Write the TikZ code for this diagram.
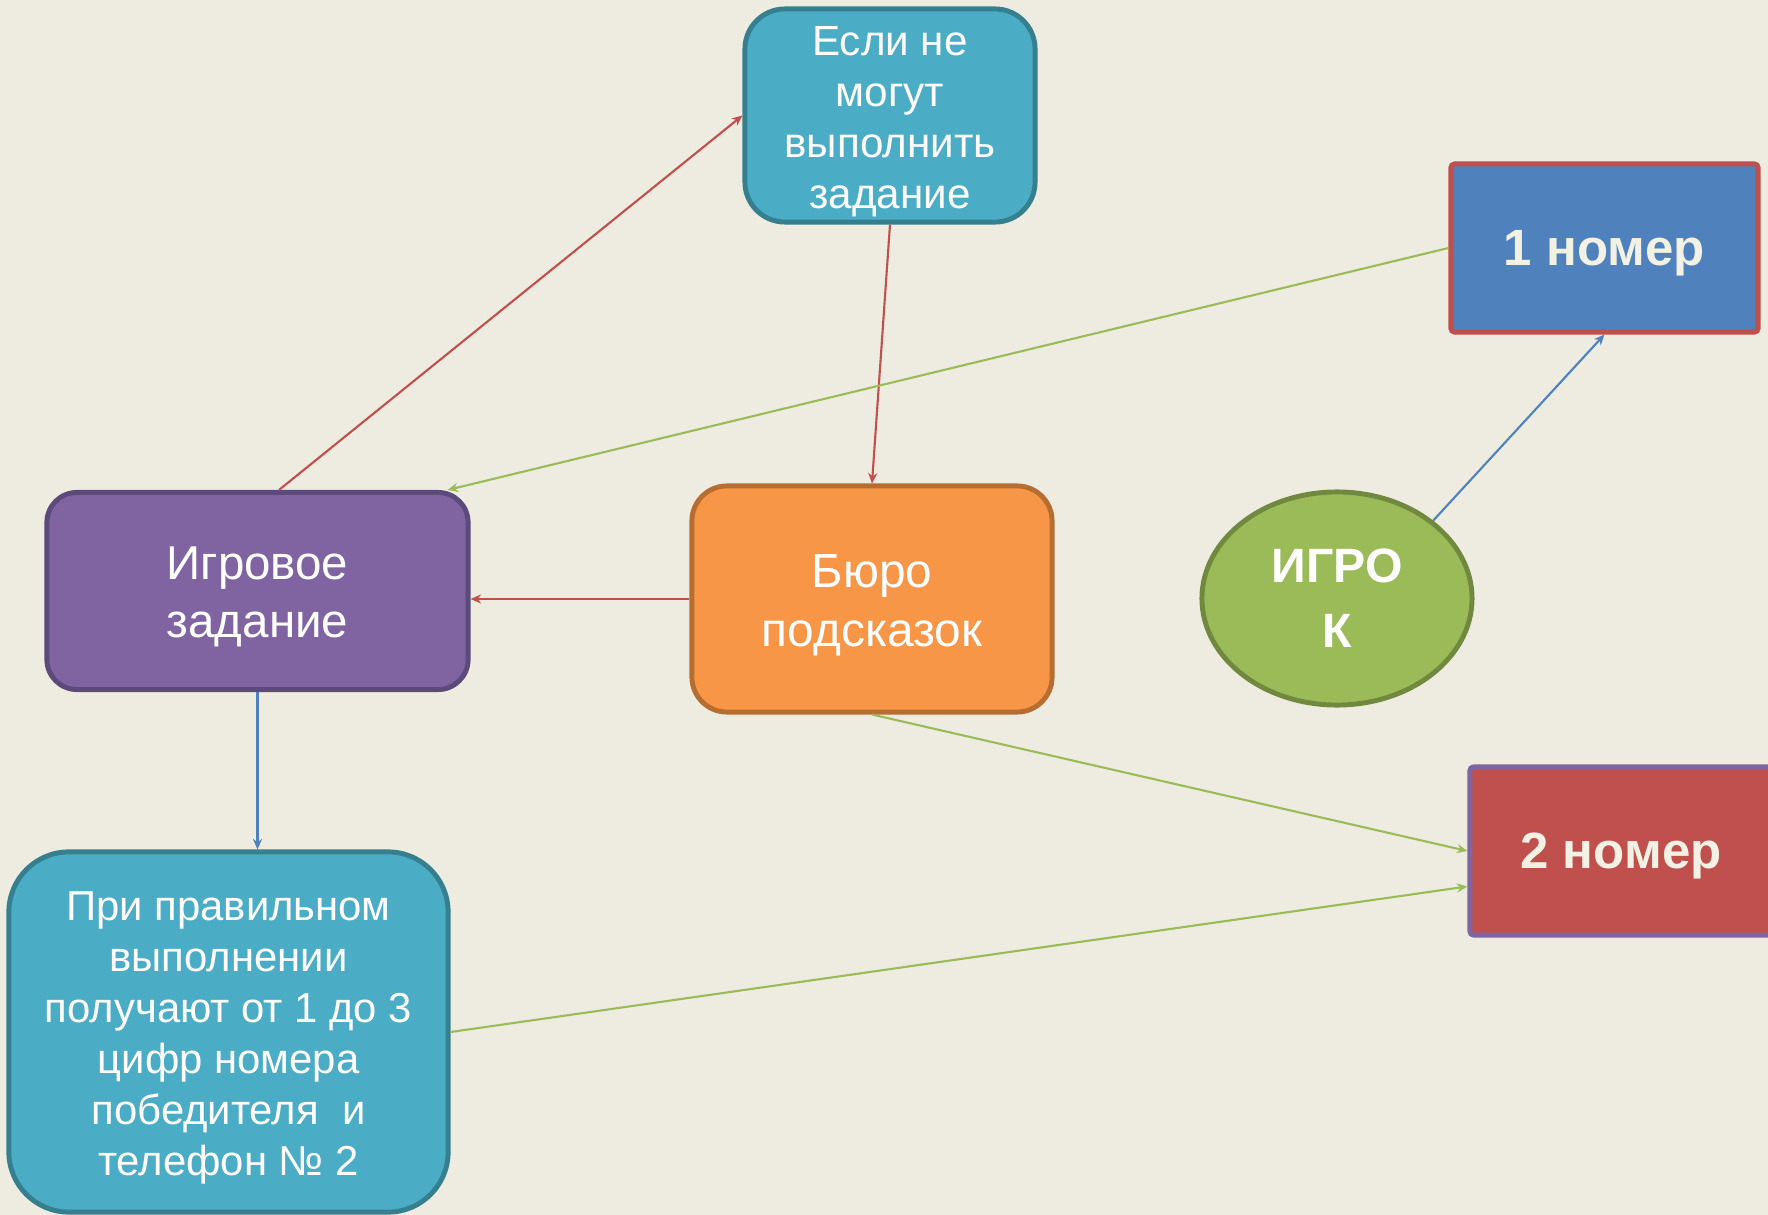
\documentclass[tikz,border=0pt]{standalone}
\usepackage{fontspec}
\setmainfont{Liberation Sans}
\usetikzlibrary{arrows.meta,shapes.geometric}
\definecolor{bgtan}{HTML}{EEECE1}
\definecolor{aqua}{HTML}{4BACC6}
\definecolor{aquadark}{HTML}{357F8F}
\definecolor{blueone}{HTML}{4F81BD}
\definecolor{redtwo}{HTML}{C0504D}
\definecolor{violet}{HTML}{8064A2}
\definecolor{violetdark}{HTML}{5C4A7A}
\definecolor{orangeb}{HTML}{F79646}
\definecolor{orangedark}{HTML}{B66D31}
\definecolor{olive}{HTML}{9BBB59}
\definecolor{olivedark}{HTML}{71893F}
\definecolor{cream}{HTML}{F3F0E4}
\newcommand\boxtext[1]{\raisebox{-1.7pt}[\height][\depth]{\begin{tabular}{@{}c@{}}#1\end{tabular}}}
\tikzset{
  box/.style={draw, line width=1.4pt, inner sep=0pt, text=white},
  numbox/.style={box, text=cream, font=\fontsize{14.5}{17}\selectfont\bfseries},
  link/.style={line width=0.6pt, -{Stealth[length=3pt,width=2.6pt]}}
}

\begin{document}
\begin{tikzpicture}[x=0.01cm, y=-0.01cm]
			%%%%% START %%%%%
			
			\path[use as bounding box, fill=bgtan] (0, 0) rectangle (1768, 1215);
			
			\node[box, fill=aqua, draw=aquadark, rounded corners=0.4cm, minimum width=2.9cm, minimum height=2.13cm, font=\fontsize{12}{14.5}\selectfont] (fail) at (890, 115.5) {\boxtext{Если не\\могут\\выполнить\\задание}};
			
			\node[numbox, fill=blueone, draw=redtwo, rounded corners=1pt, minimum width=3.07cm, minimum height=1.68cm] (num1) at (1604.5, 248) {\boxtext{1 номер}};
			
			\node[box, fill=violet, draw=violetdark, rounded corners=0.3cm, minimum width=4.21cm, minimum height=1.97cm, font=\fontsize{13.5}{16.4}\selectfont] (task) at (257.5, 591) {\boxtext{Игровое\\задание}};
			
			\node[box, fill=orangeb, draw=orangedark, rounded corners=0.35cm, minimum width=3.6cm, minimum height=2.26cm, font=\fontsize{13.6}{16.7}\selectfont] (bureau) at (872, 599) {\boxtext{Бюро\\подсказок}};
			
			\node[box, ellipse, align=center, fill=olive, draw=olivedark, minimum width=2.7cm, minimum height=2.13cm, font=\fontsize{13.7}{18.5}\selectfont\bfseries] (player) at (1337, 598.5) {ИГРО\\К};
			
			\node[numbox, fill=redtwo, draw=violet, rounded corners=1pt, minimum width=3.02cm, minimum height=1.68cm] (num2) at (1621, 851) {\boxtext{2 номер}};
			
			\node[box, fill=aqua, draw=aquadark, rounded corners=0.6cm, minimum width=4.39cm, minimum height=3.6cm, font=\fontsize{11.9}{14.5}\selectfont] (result) at (228.5, 1032) {\boxtext{При правильном\\выполнении\\получают от 1 до 3\\цифр номера\\победителя \ и\\телефон № 2}};
			
			% red
			\draw[link, redtwo] (task.78) -- (fail.west);
			\draw[link, redtwo] (fail.south) -- (bureau.north);
			\draw[link, redtwo] (bureau.west) -- (bureau.west -| task.east);
			
			% green
			\draw[link, olive] (num1.west) -- (task.28);
			\draw[link, olive] (bureau.south) -- (num2.west);
			\draw[link, olive] (result.east) -- (num2.193);
			
			% blue
			\draw[link, blueone] (player.39) -- (num1.south);
			\draw[link, blueone] (task.south) -- (task.south |- result.north);
			
			%%%%% END %%%%%
		\end{tikzpicture}
\end{document}
